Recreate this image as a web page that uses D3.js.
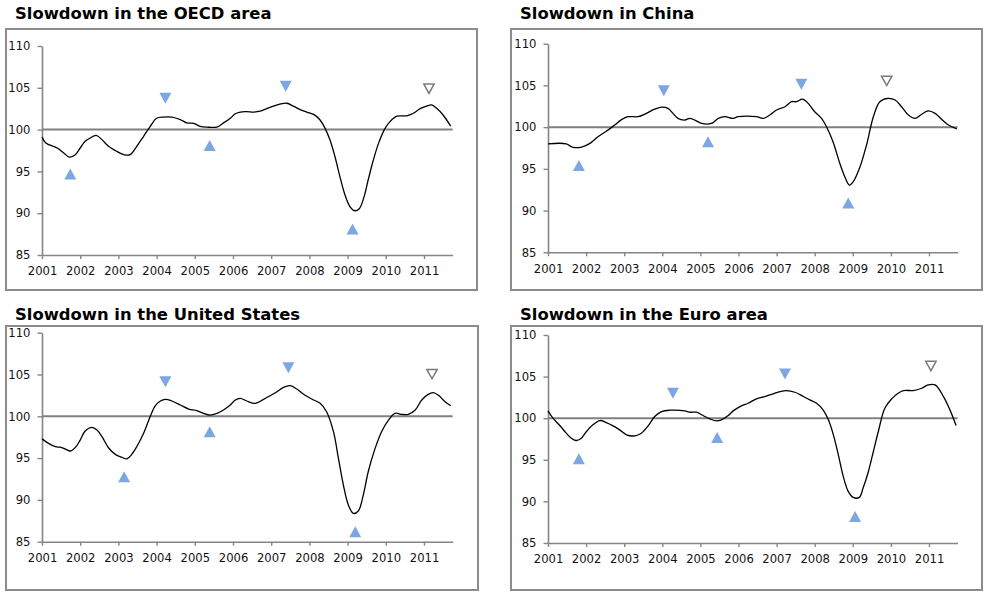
<!DOCTYPE html>
<html>
<head>
<meta charset="utf-8">
<script src="https://cdn.jsdelivr.net/npm/d3@7"></script>
<style>
  html, body { margin: 0; padding: 0; background: #fff; }
  svg { display: block; }
  text { font-family: "DejaVu Sans", Verdana, sans-serif; }
</style>
</head>
<body>
<svg id="chart" width="989" height="595"></svg>
<script>
// ---------------- DATA ----------------
const titles = ["Slowdown in the OECD area", "Slowdown in China", "Slowdown in the United States", "Slowdown in the Euro area"];
const yearTicks = [2001, 2002, 2003, 2004, 2005, 2006, 2007, 2008, 2009, 2010, 2011];
const valueTicks = [85, 90, 95, 100, 105, 110];

const oecdDates = [2001.0,2001.1,2001.4,2001.57,2001.72,2001.87,2002.0,2002.13,2002.26,2002.42,2002.57,2002.74,2002.92,2003.14,2003.31,2003.48,2003.66,2003.83,2004.0,2004.18,2004.4,2004.62,2004.79,2004.97,2005.14,2005.32,2005.58,2005.75,2005.93,2006.06,2006.32,2006.54,2006.71,2006.88,2007.06,2007.23,2007.41,2007.58,2007.76,2007.93,2008.15,2008.28,2008.41,2008.54,2008.67,2008.8,2008.93,2009.06,2009.18,2009.3,2009.42,2009.54,2009.67,2009.81,2009.98,2010.11,2010.29,2010.55,2010.72,2010.9,2011.07,2011.2,2011.33,2011.5,2011.7];
const oecdValues = [99.1,98.4,97.8,97.2,96.7,97.0,97.8,98.6,99.0,99.3,98.8,98.0,97.5,97.0,97.0,98.0,99.2,100.35,101.35,101.5,101.5,101.2,100.8,100.75,100.4,100.3,100.3,100.8,101.35,101.9,102.15,102.1,102.2,102.5,102.8,103.05,103.15,102.8,102.4,102.1,101.7,101.15,100.15,98.75,96.75,94.35,92.2,90.8,90.3,90.5,91.8,94.0,96.3,98.35,100.15,100.95,101.6,101.65,101.95,102.5,102.8,102.95,102.55,101.75,100.4];

const chinaDates = [2001.0,2001.48,2001.64,2001.88,2002.1,2002.31,2002.53,2002.75,2002.93,2003.1,2003.36,2003.58,2003.8,2003.98,2004.15,2004.28,2004.41,2004.59,2004.72,2004.85,2005.03,2005.29,2005.47,2005.64,2005.86,2005.99,2006.47,2006.65,2006.82,2007.0,2007.22,2007.39,2007.52,2007.68,2007.83,2008.0,2008.18,2008.31,2008.48,2008.66,2008.79,2008.91,2009.01,2009.19,2009.36,2009.54,2009.71,2009.93,2010.11,2010.28,2010.46,2010.63,2010.81,2010.98,2011.16,2011.33,2011.51,2011.73];
const chinaValues = [98.0,98.0,97.6,97.6,98.05,98.85,99.5,100.25,100.9,101.25,101.25,101.65,102.15,102.4,102.25,101.65,101.05,100.85,101.05,100.85,100.45,100.45,101.05,101.25,101.05,101.25,101.25,101.05,101.45,102.05,102.45,103.05,103.05,103.35,102.85,101.85,101.05,100.05,98.25,95.65,94.05,93.05,93.45,95.25,97.85,101.25,103.05,103.45,103.25,102.45,101.45,101.05,101.55,101.95,101.65,100.95,100.25,99.8];

const usDates = [2001.0,2001.17,2001.35,2001.48,2001.61,2001.74,2001.87,2002.0,2002.13,2002.31,2002.44,2002.57,2002.74,2002.92,2003.09,2003.22,2003.35,2003.48,2003.66,2003.83,2003.96,2004.1,2004.23,2004.4,2004.62,2004.84,2005.05,2005.23,2005.4,2005.58,2005.75,2005.93,2006.06,2006.19,2006.36,2006.58,2006.8,2006.97,2007.15,2007.32,2007.5,2007.67,2007.84,2008.06,2008.28,2008.45,2008.63,2008.76,2008.89,2009.02,2009.15,2009.28,2009.41,2009.54,2009.72,2009.89,2010.07,2010.24,2010.42,2010.59,2010.77,2010.94,2011.11,2011.24,2011.37,2011.55,2011.7];
const usValues = [97.3,96.76,96.36,96.3,96.08,95.85,96.25,97.16,98.24,98.68,98.36,97.56,96.24,95.45,95.1,94.9,95.45,96.36,97.96,99.95,101.23,101.83,102.03,101.83,101.35,100.87,100.67,100.35,100.15,100.35,100.75,101.35,101.95,102.15,101.83,101.55,102.03,102.46,102.94,103.46,103.66,103.26,102.66,102.07,101.55,100.55,98.16,94.97,91.78,89.39,88.39,88.67,90.58,93.37,96.16,98.16,99.55,100.35,100.23,100.23,100.75,101.95,102.62,102.82,102.54,101.75,101.27];

const euroDates = [2001.0,2001.13,2001.31,2001.48,2001.61,2001.73,2001.86,2002.01,2002.18,2002.36,2002.53,2002.71,2002.88,2003.06,2003.28,2003.45,2003.63,2003.8,2003.98,2004.2,2004.59,2004.72,2004.9,2005.07,2005.25,2005.42,2005.55,2005.73,2005.86,2006.04,2006.25,2006.47,2006.69,2006.91,2007.09,2007.26,2007.48,2007.66,2007.87,2008.05,2008.22,2008.36,2008.49,2008.62,2008.75,2008.88,2009.01,2009.17,2009.27,2009.41,2009.54,2009.67,2009.84,2010.02,2010.19,2010.33,2010.59,2010.81,2010.98,2011.16,2011.38,2011.55,2011.71];
const euroValues = [100.88,100.0,99.12,98.2,97.6,97.32,97.52,98.4,99.2,99.72,99.48,99.08,98.6,98.0,97.88,98.2,99.08,100.2,100.8,100.96,100.88,100.72,100.72,100.32,99.92,99.68,99.8,100.32,100.88,101.4,101.8,102.32,102.6,102.92,103.2,103.32,103.12,102.72,102.2,101.8,101.0,99.8,98.0,95.6,93.0,91.2,90.48,90.48,91.6,93.6,96.0,98.4,101.2,102.32,103.0,103.32,103.32,103.6,104.0,104.0,102.6,101.0,99.12];

// turning-point markers: "up" = trough, "down" = peak, "open" = provisional peak
const oecdMarkDates = [2001.74, 2004.23, 2005.39, 2007.38, 2009.13, 2011.13];
const oecdMarkValues = [94.7, 103.75, 98.1, 105.2, 88.1, 104.9];
const chinaMarkDates = [2001.81, 2004.04, 2005.2, 2007.65, 2008.88, 2009.89];
const chinaMarkValues = [95.4, 104.35, 98.25, 105.15, 90.9, 105.55];
const usMarkDates = [2003.15, 2004.23, 2005.39, 2007.45, 2009.2, 2011.21];
const usMarkValues = [92.78, 104.14, 98.16, 105.8, 86.2, 105.05];
const euroMarkDates = [2001.81, 2004.28, 2005.44, 2007.22, 2009.06, 2011.05];
const euroMarkValues = [95.12, 103.0, 97.68, 105.32, 88.2, 106.28];
const markTypes = ["up", "down", "up", "down", "up", "open"];

// ---------------- LAYOUT ----------------
const panels = [
  { title: titles[0], dates: oecdDates, values: oecdValues, mDates: oecdMarkDates, mValues: oecdMarkValues,
    frame: [6, 29, 477, 290], titleXY: [15, 19], x0: 42, x2011: 424, y110: 46, y85: 255 },
  { title: titles[1], dates: chinaDates, values: chinaValues, mDates: chinaMarkDates, mValues: chinaMarkValues,
    frame: [511, 29, 982, 290], titleXY: [520, 19], x0: 548, x2011: 929, y110: 43.7, y85: 252.3 },
  { title: titles[2], dates: usDates, values: usValues, mDates: usMarkDates, mValues: usMarkValues,
    frame: [6, 326, 478, 590], titleXY: [15, 320], x0: 42, x2011: 424, y110: 332.7, y85: 541.7 },
  { title: titles[3], dates: euroDates, values: euroValues, mDates: euroMarkDates, mValues: euroMarkValues,
    frame: [511, 326, 982, 590], titleXY: [520, 320], x0: 548, x2011: 929, y110: 335, y85: 543 }
];

const svg = d3.select("#chart");
const defs = svg.append("defs");
defs.append("filter").attr("id", "soft").attr("x", "-30%").attr("y", "-30%").attr("width", "160%").attr("height", "160%")
  .append("feGaussianBlur").attr("stdDeviation", 0.6);

const axisGray = "#858585";
const tickFont = "11.6px";

panels.forEach(p => {
  const g = svg.append("g");
  const [fx0, fy0, fx1, fy1] = p.frame;
  g.append("rect").attr("x", fx0).attr("y", fy0).attr("width", fx1 - fx0).attr("height", fy1 - fy0)
    .attr("fill", "#fff").attr("stroke", "#8c8c8c").attr("stroke-width", 2);

  g.append("text").attr("x", p.titleXY[0]).attr("y", p.titleXY[1])
    .attr("font-size", "16.4px").attr("font-weight", "bold").attr("fill", "#000").text(p.title);

  const perYear = (p.x2011 - p.x0) / 10;
  const x = d3.scaleLinear().domain([2001, 2011.75]).range([p.x0, p.x0 + 10.75 * perYear]);
  const y = d3.scaleLinear().domain([85, 110]).range([p.y85, p.y110]);

  // y axis
  const yAxis = d3.axisLeft(y).tickValues(valueTicks).tickSize(4.5).tickPadding(7).tickSizeOuter(0);
  const ya = g.append("g").attr("transform", `translate(${p.x0},0)`).call(yAxis);
  ya.select(".domain").attr("stroke", axisGray).attr("stroke-width", 1.6);
  ya.selectAll(".tick line").attr("stroke", axisGray).attr("stroke-width", 1.4);
  ya.selectAll(".tick text").attr("font-size", tickFont).attr("fill", "#111").attr("font-family", "DejaVu Sans, Verdana, sans-serif");

  // x axis
  const xAxis = d3.axisBottom(x).tickValues(yearTicks).tickFormat(d3.format("d")).tickSize(4).tickPadding(8).tickSizeOuter(0);
  const xa = g.append("g").attr("transform", `translate(0,${p.y85})`).call(xAxis);
  xa.select(".domain").attr("stroke", axisGray).attr("stroke-width", 1.6);
  xa.selectAll(".tick line").attr("stroke", axisGray).attr("stroke-width", 1.4);
  xa.selectAll(".tick text").attr("font-size", tickFont).attr("fill", "#111").attr("font-family", "DejaVu Sans, Verdana, sans-serif");

  // reference line at 100
  g.append("line").attr("x1", x(2001)).attr("x2", x(2011.75)).attr("y1", y(100)).attr("y2", y(100))
    .attr("stroke", "#808080").attr("stroke-width", 2);

  // series line
  const pts = p.dates.map((d, i) => [d, p.values[i]]);
  const line = d3.line().x(d => x(d[0])).y(d => y(d[1])).curve(d3.curveCatmullRom.alpha(0.5));
  g.append("path").attr("d", line(pts)).attr("fill", "none").attr("stroke", "#000").attr("stroke-width", 1.3);

  // markers
  const w = 12, h = 11;
  p.mDates.forEach((d, i) => {
    const cx = x(d), cy = y(p.mValues[i]);
    const t = markTypes[i];
    let path;
    if (t === "up") {
      path = `M${cx},${cy - h / 2}L${cx + w / 2},${cy + h / 2}L${cx - w / 2},${cy + h / 2}Z`;
      g.append("path").attr("d", path).attr("fill", "#7ba7e2").attr("filter", "url(#soft)");
    } else if (t === "down") {
      path = `M${cx - w / 2},${cy - h / 2}L${cx + w / 2},${cy - h / 2}L${cx},${cy + h / 2}Z`;
      g.append("path").attr("d", path).attr("fill", "#7ba7e2").attr("filter", "url(#soft)");
    } else {
      path = `M${cx - w / 2 + 0.8},${cy - h / 2 + 0.8}L${cx + w / 2 - 0.8},${cy - h / 2 + 0.8}L${cx},${cy + h / 2 - 0.8}Z`;
      g.append("path").attr("d", path).attr("fill", "#fff").attr("stroke", "#7a7a7a").attr("stroke-width", 1.5);
    }
  });
});
</script>
</body>
</html>
